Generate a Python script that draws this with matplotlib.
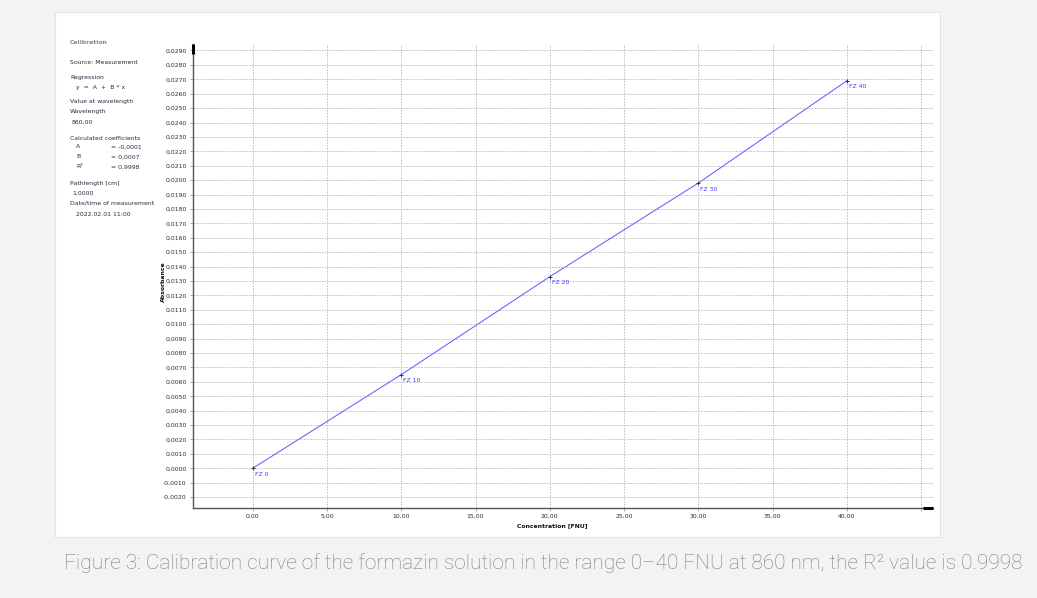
import numpy as np
import matplotlib
matplotlib.use("Agg")
from matplotlib import pyplot as plt
from matplotlib.patches import Rectangle
from matplotlib.ticker import FixedLocator

# calibration standards
concentration = [0, 10, 20, 30, 40]
absorbance = [0.0000, 0.0065, 0.0133, 0.0198, 0.0269]
pointLabels = ["FZ 0", "FZ 10", "FZ 20", "FZ 30", "FZ 40"]

xTicks = [0, 5, 10, 15, 20, 25, 30, 35, 40]
xGrid = [0, 5, 10, 15, 20, 25, 30, 35, 40, 45]
yTicks = [i / 10000 for i in range(-20, 300, 10)]

infoLines = [
    ("Source: Measurement", 0, 63),
    ("Regression", 0, 78),
    ("y  =  A  +  B * x", 6, 87),
    ("Value at wavelength", 0, 102),
    ("Wavelength", 0, 112),
    ("860,00", 2, 122),
    ("Calculated coefficients", 0, 138),
    ("Pathlength [cm]", 0, 184),
    ("1,0000", 2, 193),
    ("Date/time of measurement", 0, 203),
    ("2022.02.01 11:00", 6, 214),
]
coefNames = ["A", "B", "R²"]
coefValues = ["= -0,0001", "= 0,0007", "= 0,9998"]
coefRows = [147, 157, 167]

caption = "Figure 3: Calibration curve of the formazin solution in the range 0–40 FNU at 860 nm, the R² value is 0.9998"

W, H = 1037, 598
SMALL = 4.4
TEXT_COL = "#2a2a40"
LINE_COL = "#6a6aff"


def fx(px):
    return px / W


def fy(py):
    return 1 - py / H


fig = plt.figure(figsize=(W / 100, H / 100), dpi=100)
fig.patch.set_facecolor("#f3f3f3")

# white panel the chart sits on
fig.patches.append(Rectangle((fx(55), fy(537)), fx(940) - fx(55), fy(12) - fy(537),
                             transform=fig.transFigure, facecolor="white",
                             edgecolor="#e4e4e4", linewidth=0.8, zorder=-5))

ax = fig.add_axes([fx(193), fy(507.5), fx(933) - fx(193), fy(44) - fy(507.5)])
ax.set_zorder(2)
ax.set_facecolor("white")

ax.plot(concentration, absorbance, color=LINE_COL, linewidth=0.8, zorder=3)
ax.plot(concentration, absorbance, linestyle="none", marker="+", color="#222222",
        markersize=3.5, markeredgewidth=0.6, zorder=4)
for c, a, lab in zip(concentration, absorbance, pointLabels):
    ax.annotate(lab, (c, a), xytext=(1.5, -4.5), textcoords="offset points",
                fontsize=SMALL, color="#3b3bff", ha="left", va="center")

ax.set_xlim(-4.02, 45.8)
ax.set_ylim(-0.00272, 0.02945)

ax.xaxis.set_major_locator(FixedLocator(xGrid))
ax.xaxis.set_ticklabels([("%.2f" % v).replace(".", ",") if v in xTicks else "" for v in xGrid])
ax.yaxis.set_major_locator(FixedLocator(yTicks))
ax.yaxis.set_ticklabels([("%.4f" % v).replace(".", ",").replace("-0,0000", "0,0000") for v in yTicks])

ax.tick_params(axis="both", labelsize=SMALL, labelcolor=TEXT_COL, length=2.5,
               width=0.5, color="#888888", pad=2)
ax.grid(True, color="#b8b8b8", linestyle=(0, (2, 1.5)), linewidth=0.6)
ax.set_axisbelow(True)

for side in ["top", "right"]:
    ax.spines[side].set_visible(False)
for side in ["left", "bottom"]:
    ax.spines[side].set_color("#555555")
    ax.spines[side].set_linewidth(1.0)

# short heavy strokes at the axis ends, as in the original widget
ax.plot([0, 0], [0.978, 1.0], color="black", linewidth=2.2, solid_capstyle="butt",
        transform=ax.transAxes, clip_on=False, zorder=5)
ax.plot([0.986, 1.0], [0, 0], color="black", linewidth=2.2, solid_capstyle="butt",
        transform=ax.transAxes, clip_on=False, zorder=5)

fig.text(fx(552), fy(526), "Concentration [FNU]", fontsize=SMALL, fontweight="bold",
         color="#111111", ha="center", va="center")
fig.text(fx(163), fy(282), "Absorbance", fontsize=SMALL, fontweight="bold",
         color="#111111", ha="center", va="center", rotation=90)

# info block on the left
fig.text(fx(70), fy(42), "Calibration", fontsize=SMALL, fontweight="bold",
         color="#8a8a8a", ha="left", va="center")
for txt, dx, py in infoLines:
    fig.text(fx(70 + dx), fy(py), txt, fontsize=SMALL, color=TEXT_COL, ha="left", va="center")
for name, val, py in zip(coefNames, coefValues, coefRows):
    fig.text(fx(76), fy(py), name, fontsize=SMALL, color=TEXT_COL, ha="left", va="center")
    fig.text(fx(111), fy(py), val, fontsize=SMALL, color=TEXT_COL, ha="left", va="center")

fig.text(fx(543), fy(563), caption, fontsize=15, color="#7e7e7e", family="Roboto",
         fontweight="light", ha="center", va="center")

fig.savefig("out.png", dpi=100, facecolor=fig.get_facecolor())
